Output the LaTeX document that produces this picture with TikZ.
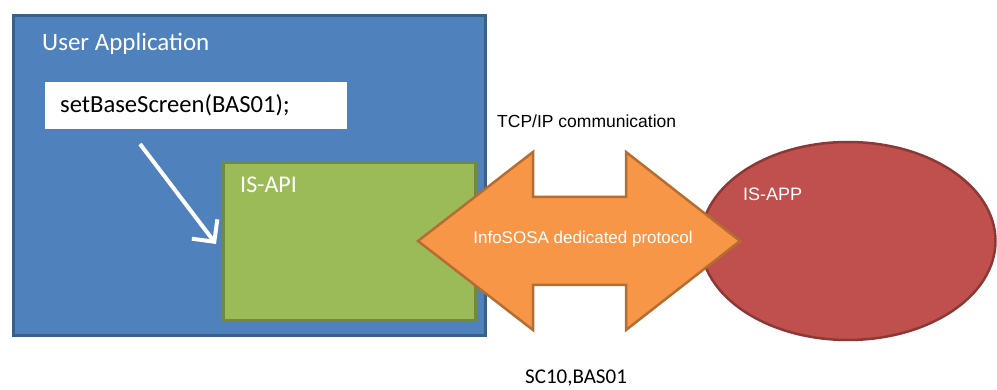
\documentclass[tikz,border=0pt]{standalone}
\usepackage{fontspec}
\setmainfont{Carlito}
\newfontfamily\arialf{Liberation Sans}
\usetikzlibrary{arrows.meta,shapes.geometric}
\definecolor{bluefill}{HTML}{4F81BD}
\definecolor{blueline}{HTML}{3A5F8D}
\definecolor{greenfill}{HTML}{9BBB59}
\definecolor{greenline}{HTML}{718A3F}
\definecolor{orangefill}{HTML}{F79646}
\definecolor{orangeline}{HTML}{B66D31}
\definecolor{redfill}{HTML}{C0504D}
\definecolor{redline}{HTML}{8C3836}
\tikzset{
  box/.style={rectangle, inner sep=0pt, line width=3pt},
  bluebox/.style={box, draw=blueline, fill=bluefill},
  greenbox/.style={box, draw=greenline, fill=greenfill},
  cmdbox/.style={rectangle, inner sep=0pt, fill=white},
  lbl/.style={inner sep=0pt, anchor=west},
}
\begin{document}
\begin{tikzpicture}[x=1pt,y=-1pt]
\useasboundingbox (0,0) rectangle (997,390);
% user application
\node[bluebox, minimum width=472pt, minimum height=320pt] (ua) at (249,175.5) {};
\node[lbl, text=white, font=\fontsize{25}{29}\selectfont] (ualbl) at (42,44) {User Application};
\node[cmdbox, minimum width=302pt, minimum height=47pt] (cmd) at (196,105.5) {};
\node[lbl, font=\fontsize{24.6}{28}\selectfont] (cmdlbl) at (60,105) {setBaseScreen(BAS01);};
% IS-API
\node[greenbox, minimum width=252pt, minimum height=158pt] (api) at (349,242) {};
\node[lbl, text=white, font=\fontsize{24}{28}\selectfont] (apilbl) at (240,185) {IS-API};
% white arrow
\coordinate (a1) at (140,144);
\coordinate (a2) at (216,244);
\draw[white, line width=4pt, -{Straight Barb[length=16pt,width=32pt,line width=4pt]}] (a1) -- (a2);
% IS-APP
\node[ellipse, draw=redline, fill=redfill, line width=2.5pt, minimum width=295pt, minimum height=198pt, inner sep=0pt] (app) at (848,241) {};
\node[lbl, text=white, font=\arialf\fontsize{18}{22}\selectfont] (applbl) at (743,194) {IS-APP};
% double arrow
\draw[draw=orangeline, fill=orangefill, line width=2.5pt, line join=miter]
  (418,241) -- (533,152) -- (533,197) -- (626,197) -- (626,152) -- (740,241)
  -- (626,330) -- (626,285) -- (533,285) -- (533,330) -- cycle;
\node[text=white, inner sep=0pt, font=\arialf\fontsize{17}{20}\selectfont] (proto) at (583,239) {InfoSOSA dedicated protocol};
% labels
\node[lbl, font=\arialf\fontsize{17.5}{21}\selectfont] (tcp) at (497,121) {TCP/IP communication};
\node[lbl, font=\fontsize{21}{25}\selectfont] (sc) at (525,378) {SC10,BAS01};
\end{tikzpicture}
\end{document}
